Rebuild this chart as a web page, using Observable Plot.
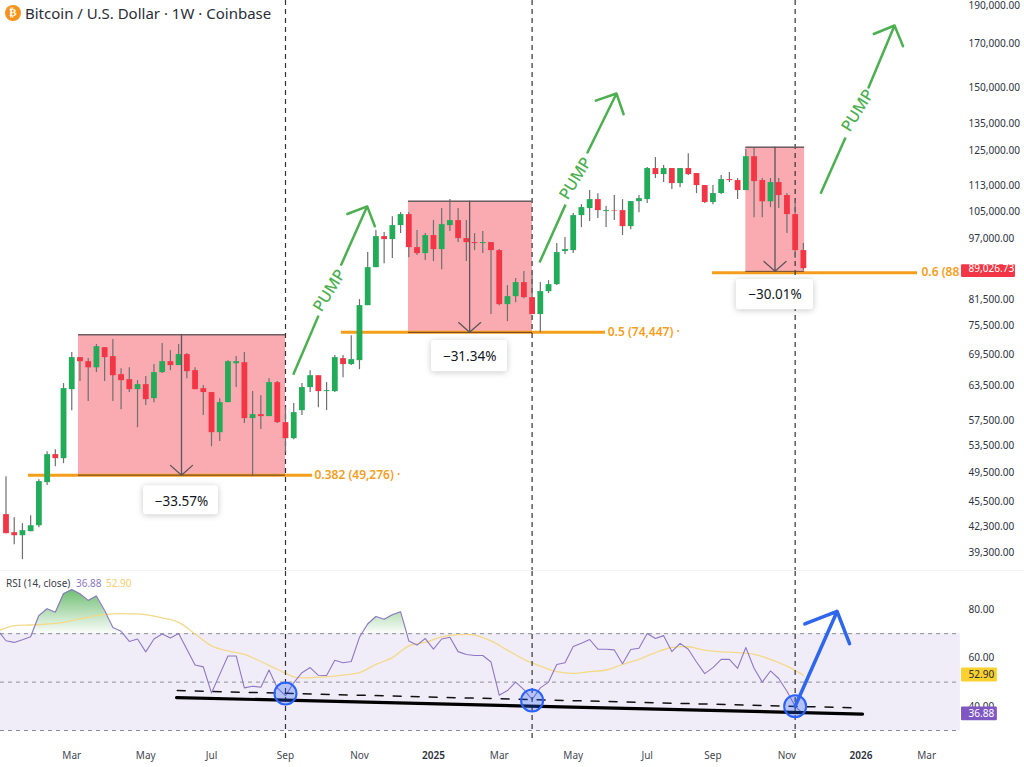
<!DOCTYPE html>
<html><head><meta charset="utf-8">
<script src="https://cdn.jsdelivr.net/npm/d3@7"></script>
<script src="https://cdn.jsdelivr.net/npm/@observablehq/plot@0.6"></script>
<style>
html,body{margin:0;padding:0;background:#fff;overflow:hidden}
#wrap{position:relative;width:1024px;height:767px;font-family:"Noto Sans",sans-serif;color:#131722}
#wrap svg{position:absolute;left:0;background:transparent}
#head{position:absolute;left:25px;top:3px;font-size:15px;line-height:20px;color:#2a2e39;white-space:nowrap}
#coin{position:absolute;left:5px;top:5px;width:16px;height:16px;border-radius:50%;background:#f7931a;color:#fff;font:bold 11px/16px "DejaVu Sans";text-align:center}
#rsi{position:absolute;left:6px;top:576px;font-size:10px;line-height:14px;color:#3a3e49;white-space:nowrap}
#rsi b{font-weight:400;position:absolute;top:0}
</style></head><body>
<div id="wrap">
<div id="coin">₿</div><div id="head">Bitcoin / U.S. Dollar · 1W · Coinbase</div>
<div id="rsi">RSI (14, close)<b style="left:70px;color:#8e76c0">36.88</b><b style="left:100px;color:#f2cf6a">52.90</b></div>
</div>
<script>
// Weekly candles, starting the week of 2024-01-08
const opens = [43830,41610,41250,41730,42450,48060,52100,51500,62830,68900,68100,66900,70900,69100,65600,64660,62830,63740,61220,65980,68100,67330,69500,66360,63010,62300,55500,60520,67700,67900,57800,58460,58130,64110,57130,54550,59140,63200,65400,62470,62470,68700,67530,68300,80030,89290,97640,96800,100780,104020,94590,92980,97920,94050,100780,102240,97080,95970,95690,95970,93780,80260,82130,85520,81890,78000,83330,85020,93510,93780,103720,105840,108620,104930,105230,105230,100490,108000,108620,118780,116740,118780,113750,118780,117080,113100,107700,110530,115070,114740,111480,122900,114740,107940,114080,109900,104020,93780];
const highs = [48900,43450,42710,43700,48480,52550,52850,63930,69900,68900,68700,71550,70900,72570,66740,66940,64480,65230,67530,71750,70300,71550,69700,66940,63560,62300,61220,68300,69100,69900,62470,61750,64850,64300,59650,60350,63930,66360,65400,64110,69300,69300,73400,81430,93240,99340,98770,103400,104620,104620,99340,98490,102240,105840,108620,105840,102240,98490,99050,95970,94050,84780,86510,88270,88010,85520,86010,95690,97360,104320,107050,111480,110500,106450,109900,108620,108000,109900,119130,122600,119830,118780,118780,124000,117080,113100,113100,116400,117420,115400,125460,126190,115400,115400,115400,110530,108300,95690];
const lows = [41490,40200,38500,41730,42200,47650,50300,50760,59140,64300,60700,66000,64300,60700,59300,62300,56300,60000,60520,65800,66360,67330,64850,62830,58300,53300,54100,60520,63200,56970,49030,56000,58130,56970,52400,54400,58300,62300,59650,59140,62300,65040,67330,66550,80030,89290,90320,91640,98490,91890,92440,91110,90850,88770,99050,95970,90850,93780,92980,77990,80030,76430,80720,81660,78000,74040,82840,84780,92700,92980,100200,101950,102830,100200,102240,97920,99620,104620,107390,115400,114080,111800,112450,116400,110500,107390,107050,110200,114080,108620,111480,103120,103120,106150,105840,98490,91640,88520];
const closes = [41490,41250,41850,42450,48200,52100,51500,63010,68900,68100,66900,71100,68900,65400,64480,62830,63740,61040,65980,68100,67330,69500,66170,62830,62300,55500,60520,68100,68100,57800,58460,58130,64110,57130,54550,58800,63200,65400,62470,62650,68900,67530,68500,80030,89290,97640,96800,100780,104020,94590,92980,97920,94050,101070,102240,97080,95970,95690,95970,93780,80260,82130,85520,81890,78000,83330,85020,93240,94050,103720,106150,108620,105230,105230,105080,100490,108000,108930,118780,116740,118780,113750,118780,116740,113100,107700,110530,115070,114740,111480,122900,114410,107940,114080,109900,104020,93780,89026.73];

// RSI (14) per week, first value is the week before the first candle
const rsiValues = [71.4,67.1,66.4,67.5,68.75,77.5,80.3,78.9,86.5,88.3,86.5,83.75,85.6,79.6,72.6,71,66.8,67.8,62.5,67.8,69.9,68.2,70.1,63.6,57.1,56.3,45.5,53.2,60.8,60.8,47.6,48.3,47.9,55,47.6,44.4,49.7,53.9,56,52.8,52.7,59,58,58.5,68.5,74,77.1,76,77.8,79.1,67,65.3,68,63.6,67.8,68.5,62.6,61.4,61,61,58.3,44.6,46.5,50,46.9,42.8,47.6,50,57.3,58,64.7,66.1,67.6,63.6,63.6,63.3,57.6,63.5,64,70.1,68,69.2,62.6,66,63.6,58.3,53.5,56,59.4,59.4,55.7,64.3,55.7,50,54.6,51.5,46.2,40,36.88];
const rsiMaWeeks = [-0.7,1,3,5,7,9,11,13,15,17,19,21,23,25,27,29,31,33,35,37,39,41,43,45,47,49,51,53,55,57,59,61,63,65,67,69,71,73,75,77,79,81,83,85,87,89,91,93,95,97];
const rsiMaValues = [71.5,73.3,73.6,74,74.7,76.1,77.5,78.2,78.2,77.9,76.5,74.7,69.9,65,62.9,61.5,58.5,55.3,52.2,51.8,52.2,52.9,53.9,57.3,60.1,65,66.4,68.7,69.6,69.4,67,63.2,59.4,56.6,54.3,53.6,54.3,55,57.3,59.4,62.2,64.3,64.6,63.2,62.5,62.2,61.5,59.4,56.6,52.9];

// axis ticks
const priceTicks = [190000,170000,150000,135000,125000,113000,105000,97000,81500,75500,69500,63500,57500,53500,49500,45500,42300,39300];
const rsiTicks = [80,60,40];
const monthTickWeeks = [8,17,25,34,43,60,69,78,86,95,112];
const monthTickLabels = ["Mar","May","Jul","Sep","Nov","Mar","May","Jul","Sep","Nov","Mar"];
const yearTickWeeks = [52,104];
const yearTickLabels = ["2025","2026"];

// annotations: price-range boxes
const boxStart = [8.82,48.96,90.0];
const boxEnd = [34,64.05,97.15];
const boxTop = [73600,108100,126300];
const boxBottom = [49110,74100,88350];
const boxMid = [21.35,56.4,93.55];
const boxPct = ["−33.57%","−31.34%","−30.01%"];
const tagStart = [16.73,51.76,88.86];
const tagEnd = [25.85,61.01,98.24];
const tagTop = [47640,72360,86260];
const tagBottom = [43830,66170,79110];
const tagText = [45500,69100,82500];
// fib levels
const fibPrice = [49110,74100,88010];
const fibStart = [2.74,40.8,85.95];
const fibEnd = [37.3,72.93,110.9];
const fibLabelAt = [37.53,73.2,111.37];
const fibLabels = ["0.382 (49,276) ·","0.5 (74,447) ·","0.6 (88"];
// pump arrows
const pumpLowStart = [[34.94,65600],[64.9,90590],[99.09,110500]];
const pumpLowEnd = [[38.02,77760],[68.07,107060],[102.13,129880]];
const pumpHighStart = [[40.78,90060],[70.74,124400],[104.93,150000]];
const pumpTip = [[43.94,106530],[74.27,147440],[108.09,179360]];
const pumpText = [[39.35,83570],[69.28,115400],[103.6,140400]];
// cycle lines
const cycleWeeks = [34,64,96];
// RSI drawings
const circleRsi = [45.3,42.4,40];
const trendWeeks = [20.74,104.2];
const trendRsi = [43.6,36.8];
const dashWeeks = [20.83,103.95];
const dashRsi = [46.5,39.3];
const blueArrow = {w1:96,r1:40,w2:101.1,r2:79.2};

const GREEN="#22ab58", RED="#f23645", WICK="#6f6f6f", ORANGE="#f59e1b", PUMPC="#4caf50", INK="#2f3341";
const FONT='"Noto Sans",sans-serif';
const week = i => new Date(Date.UTC(2024,0,8)+i*7*864e5);
const xScale = {type:"utc",domain:[week(-0.669),week(123.9)],range:[0,1024],axis:null};
const fmt2 = d3.format(",.2f");
const candles = opens.map((_,i)=>({d:week(i),o:opens[i],h:highs[i],l:lows[i],c:closes[i]}));
const boxes = boxStart.map((_,i)=>({a:week(boxStart[i]),b:week(boxEnd[i]),t:boxTop[i],u:boxBottom[i],m:week(boxMid[i])}));
const tags = tagStart.map((_,i)=>({a:week(tagStart[i]),b:week(tagEnd[i]),t:tagTop[i],u:tagBottom[i],m:week(boxMid[i]),y:tagText[i],s:boxPct[i]}));
const fibs = fibPrice.map((p,i)=>({p,a:week(fibStart[i]),b:week(fibEnd[i]),l:week(fibLabelAt[i]),s:fibLabels[i]}));
const pumps = pumpTip.map((_,i)=>({a:week(pumpLowStart[i][0]),ay:pumpLowStart[i][1],b:week(pumpLowEnd[i][0]),by:pumpLowEnd[i][1],c:week(pumpHighStart[i][0]),cy:pumpHighStart[i][1],t:week(pumpTip[i][0]),ty:pumpTip[i][1],x:week(pumpText[i][0]),y:pumpText[i][1]}));
const cycles = cycleWeeks.map(week);

const pricePlot = Plot.plot({
  width:1024,height:571,marginTop:0,marginLeft:0,marginBottom:0,marginRight:56,
  style:{background:"transparent",fontFamily:FONT,overflow:"hidden"},
  x:xScale,
  y:{type:"log",domain:[39300,190000],range:[552,5]},
  marks:[
    Plot.rect(boxes,{x1:"a",x2:"b",y1:"u",y2:"t",fill:RED,fillOpacity:0.42}),
    Plot.ruleY(fibs,{y:"p",x1:"a",x2:"b",stroke:ORANGE,strokeWidth:3}),
    Plot.ruleX(cycles,{stroke:"#333",strokeWidth:1.2,strokeDasharray:"5,4"}),
    Plot.ruleX(candles,{x:"d",y1:"l",y2:"h",stroke:WICK,strokeWidth:1.2}),
    Plot.ruleX(candles.filter(d=>d.c>=d.o),{x:"d",y1:"o",y2:"c",stroke:GREEN,strokeWidth:5.8}),
    Plot.ruleX(candles.filter(d=>d.c<d.o),{x:"d",y1:"o",y2:"c",stroke:RED,strokeWidth:5.8}),
    Plot.ruleY(boxes,{y:"t",x1:"a",x2:"b",stroke:"#6b5f62",strokeWidth:1.4}),
    Plot.ruleY(boxes,{y:"u",x1:"a",x2:"b",stroke:"#6b3f2a",strokeWidth:1}),
    Plot.arrow(boxes,{x:"m",y1:"t",y2:"u",stroke:"#5d5558",strokeWidth:1.3,headLength:17,headAngle:97}),
    Plot.text(fibs,{x:"l",y:"p",text:"s",textAnchor:"start",fill:ORANGE,fontSize:12,fontWeight:600}),
    Plot.link(pumps,{x1:"a",y1:"ay",x2:"b",y2:"by",stroke:PUMPC,strokeWidth:2.5}),
    Plot.arrow(pumps,{x1:"c",y1:"cy",x2:"t",y2:"ty",stroke:PUMPC,strokeWidth:2.5,headLength:16,headAngle:90}),
    Plot.text(pumps,{x:"x",y:"y",text:()=>"PUMP",rotate:-58,fill:PUMPC,fontSize:16,fontWeight:500}),
    Plot.rect(tags,{x1:"a",x2:"b",y1:"u",y2:"t",fill:"#fff",rx:3,imageFilter:"drop-shadow(0 1px 3px rgba(0,0,0,.22))"}),
    Plot.text(tags,{x:"m",y:"y",text:"s",fill:"#131722",fontSize:13.5}),
    Plot.axisY(priceTicks,{anchor:"right",tickSize:0,tickPadding:0,tickFormat:fmt2,textAnchor:"start",fontSize:10.1,fill:INK}),
    Plot.rect([{a:week(116.24),b:week(122.8),t:90060,u:86760}],{x1:"a",x2:"b",y1:"u",y2:"t",fill:RED,rx:1}),
    Plot.axisY([closes[closes.length-1]],{anchor:"right",tickSize:0,tickPadding:0,tickFormat:fmt2,textAnchor:"start",fontSize:10.1,fill:"#fff"})
  ]
});
pricePlot.style.top="0px";

const rsiRows = rsiValues.map((v,i)=>({d:week(i-1),v}));
const maRows = rsiMaWeeks.map((w,i)=>({d:week(w),v:rsiMaValues[i]}));
const panelA = week(-0.669), panelB = week(116.1);
const gradient = (index,scales)=>{
  const defs = d3.create("svg:defs");
  const g = defs.append("linearGradient").attr("id","obGrad").attr("gradientUnits","userSpaceOnUse")
    .attr("x1",0).attr("x2",0).attr("y1",scales.y(89)).attr("y2",scales.y(70));
  g.append("stop").attr("offset",0).attr("stop-color","#4caf50").attr("stop-opacity",0.85);
  g.append("stop").attr("offset",1).attr("stop-color","#4caf50").attr("stop-opacity",0.02);
  return defs.node();
};
const rsiPlot = Plot.plot({
  width:1024,height:196,marginTop:0,marginLeft:0,marginBottom:27,marginRight:56,
  style:{background:"transparent",fontFamily:FONT,overflow:"hidden"},
  x:xScale,
  y:{domain:[30,80],range:[159,38]},
  marks:[
    gradient,
    Plot.rect([{a:panelA,b:panelB}],{x1:"a",x2:"b",y1:()=>30,y2:()=>70,fill:"#7e57c2",fillOpacity:0.11}),
    Plot.ruleY([70,50,30],{x1:()=>panelA,x2:()=>panelB,stroke:"#8a8d98",strokeWidth:1,strokeDasharray:"4,4"}),
    Plot.areaY(rsiRows,{x:"d",y1:()=>70,y2:d=>Math.max(d.v,70),fill:"url(#obGrad)"}),
    Plot.line(maRows,{x:"d",y:"v",stroke:"#f3d98a",strokeWidth:1.3,curve:"catmull-rom"}),
    Plot.line(rsiRows,{x:"d",y:"v",stroke:"#8f78c3",strokeWidth:1.1}),
    Plot.ruleX(cycles,{stroke:"#333",strokeWidth:1.2,strokeDasharray:"5,4"}),
    Plot.line(dashWeeks.map((w,i)=>({d:week(w),v:dashRsi[i]})),{x:"d",y:"v",stroke:"#111",strokeWidth:1.5,strokeDasharray:"8,10"}),
    Plot.line(trendWeeks.map((w,i)=>({d:week(w),v:trendRsi[i]})),{x:"d",y:"v",stroke:"#000",strokeWidth:3.2}),
    Plot.dot(circleRsi.map((v,i)=>({d:cycles[i],v})),{x:"d",y:"v",r:11,fill:"#2962ff",fillOpacity:0.3,stroke:"#2962ff",strokeWidth:2}),
    Plot.arrow([blueArrow],{x1:d=>week(d.w1),y1:"r1",x2:d=>week(d.w2),y2:"r2",stroke:"#2f66ee",strokeWidth:3.5,headLength:19,headAngle:90}),
    Plot.axisY(rsiTicks,{anchor:"right",tickSize:0,tickPadding:0,tickFormat:d3.format(".2f"),textAnchor:"start",fontSize:10.1,fill:INK}),
    Plot.rect([{t:55.8,u:50}],{x1:()=>week(116.24),x2:()=>week(120.6),y1:"u",y2:"t",fill:"#fbd130",rx:1}),
    Plot.axisY([52.9],{anchor:"right",tickSize:0,tickPadding:0,tickFormat:d3.format(".2f"),textAnchor:"start",fontSize:10.1,fill:"#2a2e39"}),
    Plot.rect([{t:39.7,u:34}],{x1:()=>week(116.24),x2:()=>week(120.6),y1:"u",y2:"t",fill:"#7e57c2",rx:1}),
    Plot.axisY([36.88],{anchor:"right",tickSize:0,tickPadding:0,tickFormat:d3.format(".2f"),textAnchor:"start",fontSize:10.1,fill:"#fff"}),
    Plot.axisX(monthTickWeeks.map(week),{anchor:"bottom",tickSize:0,tickPadding:11,fontSize:10,fill:"#434651",
      tickFormat:d=>monthTickLabels[monthTickWeeks.findIndex(w=>+week(w)===+d)]}),
    Plot.axisX(yearTickWeeks.map(week),{anchor:"bottom",tickSize:0,tickPadding:11,fontSize:10,fontWeight:600,fill:"#2a2e39",
      tickFormat:d=>yearTickLabels[yearTickWeeks.findIndex(w=>+week(w)===+d)]})
  ]
});
rsiPlot.style.top="570px";
rsiPlot.style.borderTop="1px solid #f0f3fa";
const wrap=document.getElementById("wrap");
wrap.prepend(rsiPlot);
wrap.prepend(pricePlot);
</script>
</body></html>
